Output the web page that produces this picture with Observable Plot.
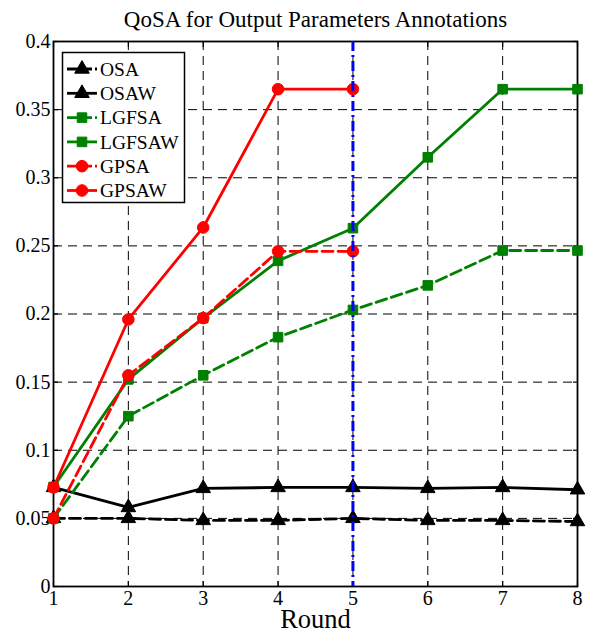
<!DOCTYPE html>
<html>
<head>
<meta charset="utf-8">
<script src="https://cdn.jsdelivr.net/npm/d3@7"></script>
<script src="https://cdn.jsdelivr.net/npm/@observablehq/plot@0.6"></script>
<style>
  html, body { margin: 0; padding: 0; background: #fff; }
  #chart { width: 593px; height: 633px; }
  #chart svg, #chart svg text { font-family: "Liberation Serif", "Times New Roman", serif !important; }
</style>
</head>
<body>
<div id="chart"></div>
<script>
const titleText = "QoSA for Output Parameters Annotations";
const xLabel = "Round";
const rounds = [1, 2, 3, 4, 5, 6, 7, 8];
const yTicks = [0, 0.05, 0.1, 0.15, 0.2, 0.25, 0.3, 0.35, 0.4];
const markerRound = 5;

const osa    = [0.050, 0.050, 0.0485, 0.0485, 0.050, 0.0485, 0.0485, 0.0477];
const osaw   = [0.0727, 0.058, 0.072, 0.0727, 0.0727, 0.072, 0.0727, 0.071];
const lgfsa  = [0.050, 0.125, 0.155, 0.183, 0.203, 0.221, 0.2466, 0.2466];
const lgfsaw = [0.073, 0.152, 0.197, 0.239, 0.263, 0.315, 0.365, 0.365];
const gpsa   = [0.050, 0.155, 0.197, 0.246, 0.246];
const gpsaw  = [0.0727, 0.196, 0.2635, 0.365, 0.365];

const seriesNames  = ["OSA", "OSAW", "LGFSA", "LGFSAW", "GPSA", "GPSAW"];
const seriesValues = [osa, osaw, lgfsa, lgfsaw, gpsa, gpsaw];
const seriesColors = ["#000000", "#000000", "#008000", "#008000", "#ff0000", "#ff0000"];
const seriesDashed = [true, false, true, false, true, false];
const seriesSymbol = ["triangle", "triangle", "square", "square", "circle", "circle"];

const series = seriesNames.map((name, i) => ({
  name, color: seriesColors[i], dashed: seriesDashed[i], symbol: seriesSymbol[i],
  data: seriesValues[i].map((v, j) => ({round: rounds[j], value: v}))
}));

const symbolR = {triangle: 5.4, square: 5.4, circle: 5.8};
const FONT = "'Liberation Serif', 'Times New Roman', serif";

const marks = [
  Plot.gridX(rounds, {stroke: "#000", strokeOpacity: 1, strokeWidth: 1, strokeDasharray: "9,6"}),
  Plot.gridY(yTicks, {stroke: "#000", strokeOpacity: 1, strokeWidth: 1, strokeDasharray: "9,6"}),
  Plot.axisX(rounds, {anchor: "bottom", tickSize: -5, fill: "none", strokeWidth: 1.2}),
  Plot.axisX(rounds, {anchor: "top", tickSize: -5, fill: "none", strokeWidth: 1.2, label: null}),
  Plot.axisY(yTicks, {anchor: "left", tickSize: -5, fill: "none", strokeWidth: 1.2}),
  Plot.axisY(yTicks, {anchor: "right", tickSize: -5, fill: "none", strokeWidth: 1.2, label: null}),
  Plot.axisX(rounds, {anchor: "bottom", tickSize: 0, tickPadding: 4, label: null, fontSize: 20, fontFamily: FONT, tickFormat: d => String(d)}),
  Plot.axisY(yTicks, {anchor: "left", tickSize: 0, tickPadding: 3, label: null, fontSize: 20, fontFamily: FONT, tickFormat: d => String(+d.toFixed(2))}),
  Plot.frame({stroke: "#000", strokeWidth: 1.8})
];

for (const s of series) {
  marks.push(Plot.line(s.data, {
    x: "round", y: "value", stroke: s.color, strokeWidth: 2.8,
    strokeDasharray: s.dashed ? "11,5" : null, strokeLinejoin: "round"
  }));
  marks.push(Plot.dot(s.data, {
    x: "round", y: "value", symbol: () => s.symbol, r: symbolR[s.symbol],
    fill: s.color, stroke: s.color, strokeWidth: 1
  }));
}

marks.push(Plot.ruleX([markerRound], {stroke: "#0000ff", strokeWidth: 3, strokeDasharray: "10,4,2,4"}));
marks.push(Plot.text([titleText], {frameAnchor: "top", dy: -22, lineAnchor: "middle", fontSize: 23, fontFamily: FONT, text: d => d}));
marks.push(Plot.text([xLabel], {frameAnchor: "bottom", dy: 33, lineAnchor: "middle", fontSize: 26.5, fontFamily: FONT, text: d => d}));

const svg = Plot.plot({
  width: 593,
  height: 633,
  marginTop: 41,
  marginBottom: 47,
  marginLeft: 53,
  marginRight: 16,
  style: {fontFamily: FONT, fontSize: "16px", background: "#fff", color: "#000", overflow: "visible"},
  x: {domain: [1, 8], label: null},
  y: {domain: [0, 0.4], label: null},
  symbol: {type: "identity"},
  marks
});

// Legend (built from the series arrays)
const lg = d3.select(svg).append("g").attr("transform", "translate(62,52)")
  .attr("font-family", FONT).attr("font-size", 19.5).attr("text-anchor", "start");
lg.append("rect").attr("x", 0.5).attr("y", 0.5).attr("width", 122).attr("height", 150)
  .attr("fill", "#fff").attr("stroke", "#000").attr("stroke-width", 1.5);
const d3sym = {triangle: d3.symbolTriangle, square: d3.symbolSquare, circle: d3.symbolCircle};
series.forEach((s, i) => {
  const cy = 17 + i * 24.3;
  const g = lg.append("g").attr("transform", `translate(0,${cy})`);
  g.append("line").attr("x1", 5).attr("x2", 35).attr("y1", 0).attr("y2", 0)
    .attr("stroke", s.color).attr("stroke-width", 2.8)
    .attr("stroke-dasharray", s.dashed ? "11,3" : null);
  g.append("path").attr("transform", "translate(20,0)")
    .attr("d", d3.symbol(d3sym[s.symbol], Math.PI * symbolR[s.symbol] ** 2)())
    .attr("fill", s.color).attr("stroke", s.color);
  g.append("text").attr("x", 38).attr("y", 0).attr("dy", "0.35em").attr("fill", "#000")
    .attr("text-anchor", "start").text(s.name);
});

document.getElementById("chart").appendChild(svg);
</script>
</body>
</html>
